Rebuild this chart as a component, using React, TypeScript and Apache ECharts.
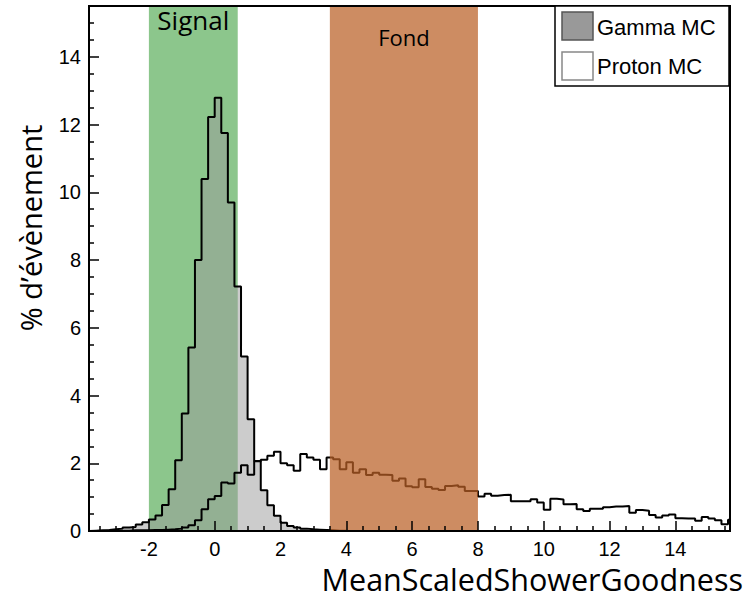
import React, { useEffect, useRef } from "react";
import * as echarts from "echarts";

// Histogram binning (bin left edges = binStart + i * binWidth)
const binStart = -3.8;
const binWidth = 0.2;

// Gamma MC, % of events per bin, bins from -3.8 to 4.0
const gammaValues = [
  0.01, 0.02, 0.03, 0.05, 0.07, 0.1, 0.12, 0.19, 0.26, 0.34,
  0.46, 0.77, 1.23, 2.09, 3.47, 5.42, 8.0, 10.39, 12.22, 12.79,
  11.75, 9.7, 7.22, 5.15, 3.3, 2.07, 1.2, 0.76, 0.45, 0.24,
  0.15, 0.1, 0.07, 0.05, 0.04, 0.03, 0.02, 0.01, 0.01,
];

// Proton MC, % of events per bin, bins from -3.8 to 15.8
const protonValues = [
  0.0, 0.0, 0.01, 0.01, 0.01, 0.01, 0.02, 0.02, 0.02, 0.03,
  0.03, 0.04, 0.05, 0.07, 0.1, 0.17, 0.32, 0.64, 0.94, 1.03,
  1.43, 1.4, 1.72, 1.94, 1.66, 2.06, 2.1, 2.22, 2.34, 2.0,
  1.94, 1.78, 2.27, 2.17, 2.1, 1.82, 2.17, 2.12, 1.82, 2.03,
  1.72, 1.82, 1.65, 1.72, 1.66, 1.65, 1.48, 1.55, 1.32, 1.29,
  1.53, 1.3, 1.25, 1.21, 1.33, 1.35, 1.31, 1.18, 1.18, 1.02,
  1.1, 1.04, 1.06, 1.07, 0.88, 0.88, 0.88, 0.94, 0.84, 0.63,
  0.95, 0.93, 0.79, 0.8, 0.64, 0.59, 0.66, 0.66, 0.7, 0.72,
  0.72, 0.74, 0.54, 0.62, 0.6, 0.47, 0.4, 0.46, 0.49, 0.38,
  0.37, 0.37, 0.3, 0.41, 0.37, 0.32, 0.2, 0.33,
];

const signalBand = { name: "Signal", from: -2, to: 0.7 };
const fondBand = { name: "Fond", from: 3.5, to: 8 };

const seriesNames = ["Gamma MC", "Proton MC"];
const xTitle = "MeanScaledShowerGoodness";
const yTitle = "% d’évènement";

const xRange = { min: -3.82, max: 15.66 };
const yRange = { min: 0, max: 15.5 };

function toSteps(vals: number[]) {
  const pts: number[][] = [[binStart, 0]];
  vals.forEach((v, i) => pts.push([+(binStart + i * binWidth).toFixed(3), v]));
  pts.push([+(binStart + vals.length * binWidth).toFixed(3), 0]);
  return pts;
}

const tickFont = "'Liberation Sans', Arial, sans-serif";
const titleFont = "'Open Sans', 'Noto Sans', sans-serif";

export default function App() {
  const ref = useRef<HTMLDivElement>(null);

  useEffect(() => {
    if (!ref.current) return;
    const chart = echarts.init(ref.current, undefined, { renderer: "svg" });

    const axisCommon = {
      type: "value" as const,
      z: 10,
      splitLine: { show: false },
      axisLine: { show: true, onZero: false, lineStyle: { color: "#000", width: 2 } },
      axisTick: { show: true, inside: true, length: 10, lineStyle: { color: "#000", width: 1.5 } },
      minorTick: { show: true, splitNumber: 4, length: 5, lineStyle: { color: "#000", width: 1.5 } },
      axisLabel: { color: "#000", fontSize: 20, fontFamily: tickFont, margin: 8 },
    };

    chart.setOption({
      animation: false,
      grid: {
        left: 89,
        top: 6,
        right: 18,
        bottom: 70,
        show: true,
        z: 10,
        borderColor: "#000",
        borderWidth: 2,
        backgroundColor: "transparent",
      },
      xAxis: {
        ...axisCommon,
        min: xRange.min,
        max: xRange.max,
        splitNumber: 10,
        axisLabel: { ...axisCommon.axisLabel, showMinLabel: false, showMaxLabel: false },
      },
      yAxis: {
        ...axisCommon,
        min: yRange.min,
        max: yRange.max,
        splitNumber: 8,
        axisLabel: { ...axisCommon.axisLabel, showMaxLabel: false },
      },
      series: [
        {
          name: signalBand.name,
          type: "line",
          data: [],
          z: 1,
          silent: true,
          markArea: {
            z: 1,
            silent: true,
            itemStyle: { color: "#8cc68c" },
            label: {
              show: true,
              position: "insideTop",
              distance: 1,
              color: "#000",
              fontSize: 26,
              fontFamily: titleFont,
            },
            data: [[{ name: signalBand.name, xAxis: signalBand.from }, { xAxis: signalBand.to }]],
          },
        },
        {
          name: seriesNames[0],
          type: "line",
          step: "end",
          symbol: "none",
          z: 2,
          data: toSteps(gammaValues),
          lineStyle: { color: "#000", width: 2 },
          itemStyle: { color: "#999" },
          areaStyle: { color: "rgba(153,153,153,0.5)", opacity: 1 },
        },
        {
          name: seriesNames[1],
          type: "line",
          step: "end",
          symbol: "none",
          z: 3,
          data: toSteps(protonValues),
          lineStyle: { color: "#000", width: 2 },
          itemStyle: { color: "#fff" },
        },
        {
          name: fondBand.name,
          type: "line",
          data: [],
          z: 5,
          silent: true,
          markArea: {
            z: 5,
            silent: true,
            itemStyle: { color: "rgba(186,95,37,0.72)" },
            label: {
              show: true,
              position: "insideTop",
              distance: 20,
              color: "#000",
              fontSize: 22,
              fontFamily: titleFont,
            },
            data: [[{ name: fondBand.name, xAxis: fondBand.from }, { xAxis: fondBand.to }]],
          },
        },
      ],
      graphic: [
        {
          type: "rect",
          z: 100,
          shape: { x: 555, y: 6, width: 174, height: 80 },
          style: { fill: "#fff", stroke: "#000", lineWidth: 1.5 },
        },
        {
          type: "rect",
          z: 101,
          shape: { x: 562, y: 12, width: 31, height: 28 },
          style: { fill: "#999", stroke: "#555", lineWidth: 1.5 },
        },
        {
          type: "text",
          z: 101,
          x: 597,
          y: 27,
          style: {
            text: seriesNames[0],
            fill: "#000",
            font: `22px ${tickFont}`,
            verticalAlign: "middle",
            align: "left",
          },
        },
        {
          type: "rect",
          z: 101,
          shape: { x: 562, y: 52, width: 31, height: 28 },
          style: { fill: "#fff", stroke: "#888", lineWidth: 1.5 },
        },
        {
          type: "text",
          z: 101,
          x: 597,
          y: 66,
          style: {
            text: seriesNames[1],
            fill: "#000",
            font: `22px ${tickFont}`,
            verticalAlign: "middle",
            align: "left",
          },
        },
        {
          type: "text",
          z: 100,
          x: 743,
          y: 579,
          style: {
            text: xTitle,
            fill: "#000",
            font: `30.5px ${titleFont}`,
            align: "right",
            verticalAlign: "middle",
          },
        },
        {
          type: "text",
          z: 100,
          x: 30,
          y: 228,
          rotation: Math.PI / 2,
          style: {
            text: yTitle,
            fill: "#000",
            font: `29px ${titleFont}`,
            align: "center",
            verticalAlign: "middle",
          },
        },
      ],
    });

    return () => chart.dispose();
  }, []);

  return (
    <div
      ref={ref}
      style={{ position: "fixed", left: 0, top: 0, width: 748, height: 601, background: "#fff" }}
    />
  );
}
